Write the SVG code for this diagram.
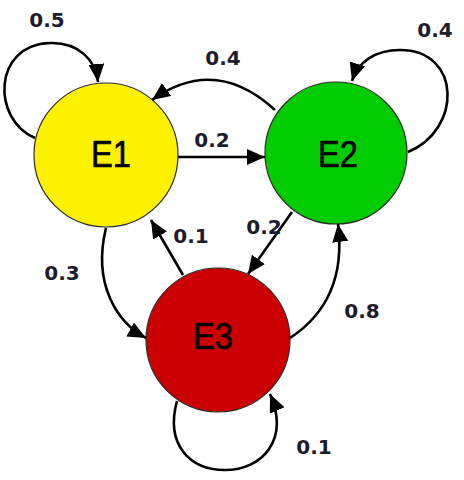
<svg xmlns="http://www.w3.org/2000/svg" width="464" height="480" viewBox="0 0 464 480">
  <style>
    .node { stroke: #2a2a2a; stroke-width: 1.2; }
    .nlabel { font-family: "Liberation Sans", Arial, sans-serif; font-size: 36px; fill: #000; stroke: #000; stroke-width: 0.6; text-anchor: middle; }
    .edge { fill: none; stroke: #000; stroke-width: 2.6; marker-end: url(#arrow); }
    .elabel { font-family: "DejaVu Sans", Verdana, sans-serif; font-weight: bold; font-size: 20px; fill: #1c1c2c; text-anchor: middle; }
  </style>
  <defs>
    <marker id="arrow" markerUnits="userSpaceOnUse" markerWidth="19" markerHeight="17" refX="18" refY="8" orient="auto">
      <path d="M0,0 L18,8 L0,16 z" fill="#000"/>
    </marker>
  </defs>
  <rect width="464" height="480" fill="#fff"/>

  <g id="E1">
    <circle class="node" cx="106" cy="155" r="72" fill="#FFF200"/>
    <text class="nlabel" x="111" y="167" textLength="40" lengthAdjust="spacingAndGlyphs">E1</text>
  </g>
  <g id="E2">
    <circle class="node" cx="336" cy="153" r="71" fill="#00CC00"/>
    <text class="nlabel" x="338" y="167" textLength="40" lengthAdjust="spacingAndGlyphs">E2</text>
  </g>
  <g id="E3">
    <circle class="node" cx="218" cy="340" r="72" fill="#CC0000"/>
    <text class="nlabel" x="213" y="349" textLength="40" lengthAdjust="spacingAndGlyphs">E3</text>
  </g>

  <g id="connectors">
    <path class="edge" d="M35,138 C -8,120 -8,45 50,43 C 78,42 96,60 98,82"/>
    <path class="edge" d="M275,110 Q 215,55 152,100"/>
    <path class="edge" d="M178,157 L265,157"/>
    <path class="edge" d="M408,152 C 462,130 462,50 400,50 C 375,50 358,62 352,81"/>
    <path class="edge" d="M292,212 L248,274"/>
    <path class="edge" d="M183,275 L151,220"/>
    <path class="edge" d="M106,228 C 92,285 118,323 146,338"/>
    <path class="edge" d="M290,338 C 325,315 345,280 338,224"/>
    <path class="edge" d="M177,401 C 165,445 190,470 225,470 C 262,470 290,440 270,394"/>
  </g>

  <g id="edge-labels">
    <text class="elabel" x="47" y="27">0.5</text>
    <text class="elabel" x="223" y="65">0.4</text>
    <text class="elabel" x="212" y="147">0.2</text>
    <text class="elabel" x="435" y="37">0.4</text>
    <text class="elabel" x="264" y="234">0.2</text>
    <text class="elabel" x="191" y="243">0.1</text>
    <text class="elabel" x="62" y="280">0.3</text>
    <text class="elabel" x="362" y="318">0.8</text>
    <text class="elabel" x="314" y="454">0.1</text>
  </g>
</svg>
